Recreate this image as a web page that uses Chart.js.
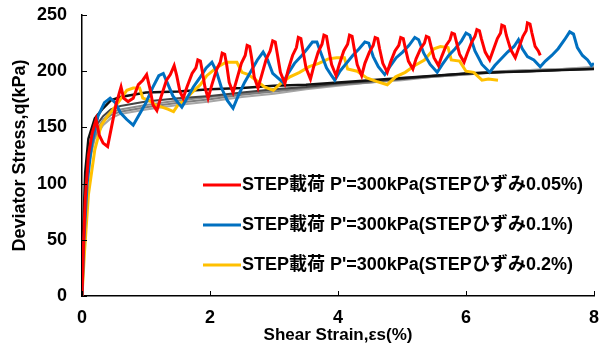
<!DOCTYPE html>
<html>
<head>
<meta charset="utf-8">
<script src="https://cdn.jsdelivr.net/npm/chart.js@4.4.1/dist/chart.umd.min.js"></script>
<style>
  html, body { margin: 0; padding: 0; background: #fff; }
  #wrap { width: 605px; height: 347px; }
</style>
</head>
<body>
<div id="wrap"><canvas id="myChart" width="605" height="347"></canvas></div>
<script>
// series labels
var seriesLabels = [
  "STEP載荷 P'=300kPa(STEPひずみ0.05%)",
  "STEP載荷 P'=300kPa(STEPひずみ0.1%)",
  "STEP載荷 P'=300kPa(STEPひずみ0.2%)"
];

// STEP 0.05% (red)
var redX = [0,0.02,0.05,0.1,0.16,0.22,0.27,0.33,0.4,0.46,0.53,0.58,0.61,0.65,0.72,0.8,0.88,0.95,1.01,1.06,1.11,1.17,1.24,1.32,1.38,1.44,1.48,1.53,1.58,
  1.64,1.72,1.78,1.81,1.85,1.88,1.92,1.97,2.03,2.1,2.16,2.19,2.23,2.26,2.3,2.36,2.42,2.49,2.55,2.58,2.62,2.65,2.69,2.75,
  2.81,2.88,2.94,2.98,3.02,3.05,3.1,3.17,3.22,3.29,3.35,3.38,3.42,3.45,3.5,3.57,3.62,3.69,3.75,3.78,3.82,3.85,3.9,3.97,
  4.02,4.09,4.15,4.18,4.22,4.25,4.3,4.37,4.42,4.49,4.55,4.58,4.62,4.65,4.7,4.77,4.82,4.89,4.95,4.98,5.02,5.05,5.1,5.17,
  5.22,5.29,5.35,5.38,5.42,5.45,5.5,5.57,5.62,5.69,5.75,5.78,5.82,5.85,5.9,5.97,6.02,6.09,6.14,6.17,6.21,6.24,6.3,6.37,
  6.42,6.49,6.54,6.56,6.6,6.63,6.7,6.77,6.82,6.89,6.94,6.96,7.0,7.03,7.08,7.13,7.16];
var redY = [0,40,85,125,145,157,143,136,133,150,170,180,186,176,173,176,188,192,197,185,170,165,178,192,197,205,196,182,176,
  186,198,203,210,209,200,186,176,188,201,208,216,215,206,190,181,193,207,214,223,222,212,195,185,
  197,211,218,227,226,216,199,189,201,214,221,230,229,219,203,193,204,217,224,232,231,221,206,196,
  206,218,224,232,231,221,206,196,207,217,223,230,229,220,207,199,208,218,223,230,229,221,209,202,
  211,220,225,231,230,223,212,205,213,223,228,234,233,226,215,208,216,226,231,237,236,229,217,210,
  218,229,234,241,240,232,219,212,220,231,236,243,242,234,222,218,214];

// STEP 0.1% (blue)
var blueX = [0,0.03,0.08,0.15,0.25,0.35,0.44,0.52,0.6,0.7,0.8,0.9,1.0,1.1,1.2,1.27,1.33,1.42,1.5,1.56,
  1.64,1.74,1.84,1.94,2.03,2.1,2.18,2.27,2.36,2.44,2.54,2.64,2.74,2.83,2.9,2.98,3.06,3.14,
  3.22,3.32,3.42,3.52,3.6,3.67,3.74,3.82,3.9,3.95,4.03,4.13,4.23,4.33,4.42,4.48,4.55,4.63,4.73,
  4.81,4.91,5.01,5.11,5.2,5.26,5.34,5.44,5.55,5.63,5.73,5.83,5.93,6.0,6.06,6.14,6.25,6.37,
  6.45,6.55,6.65,6.75,6.82,6.88,6.96,7.06,7.16,7.24,7.34,7.44,7.54,7.62,7.68,7.74,7.82,7.9,7.96,8.0];
var blueY = [0,50,100,135,160,172,176,172,163,157,152,162,172,185,196,198,190,178,172,168,
  176,186,194,203,208,200,185,174,167,178,190,200,210,217,210,198,194,190,
  198,207,213,220,226,226,215,203,196,192,200,207,214,220,226,225,213,204,197,
  204,212,217,223,230,228,216,206,199,206,214,220,227,234,232,218,206,199,
  205,211,217,222,228,220,213,210,204,209,214,220,228,235,233,221,214,210,205,207];

// STEP 0.2% (yellow)
var yellowX = [0,0.04,0.1,0.2,0.3,0.4,0.5,0.6,0.7,0.8,0.9,0.95,1.05,1.15,1.25,1.35,1.43,1.5,1.6,1.7,1.85,1.95,2.1,2.25,2.42,
  2.5,2.6,2.72,2.85,2.99,3.1,3.25,3.4,3.55,3.7,3.85,3.98,4.1,4.15,4.3,4.45,4.6,4.77,4.9,5.05,5.2,5.35,5.5,5.6,5.72,
  5.77,5.9,6.0,6.12,6.25,6.35,6.5];
var yellowY = [0,40,90,130,152,160,167,175,183,185,185,176,174,170,168,166,164,170,174,180,188,196,203,208,208,
  199,197,192,186,183,189,195,199,204,207,211,212,212,202,200,194,191,188,195,199,205,210,220,222,221,
  210,209,200,199,192,193,192];

// monotonic loading curves (black / greys)
var monoX = [0,0.02,0.05,0.1,0.2,0.33,0.45,0.6,0.8,1.0,1.5,2.0,2.5,3.0,3.5,4.0,4.5,5.0,5.5,6.0,6.5,7.0,7.5,8.0];
var blackY = [0,60,110,140,158,167,174,177,179,181,182,184,185,187,188,190,192,194,196,198,199,200,201,202];
var dgrayY = [0,45,95,128,150,160,166,169,171,173,176,178,181,184,186,189,191,193,196,198,199,200,201,202];
var gray1Y = [0,40,85,118,142,155,161,164,166,168,172,175,179,182,185,188,190,193,195,197,199,200,201,203];
var gray2Y = [0,38,82,115,140,152,158,162,164,166,170,173,177,180,184,187,190,192,195,197,199,201,202,204];
var gray3Y = [0,42,88,120,145,157,163,166,168,170,174,177,180,183,186,189,191,194,196,198,200,201,202,203];

function pts(xs, ys) {
  return xs.map(function (x, i) { return { x: x, y: ys[i] }; });
}

var FONT = "'Liberation Sans', Arial, 'Noto Sans CJK JP', sans-serif";

// tick marks drawn inside the plot
var innerTicks = {
  id: "innerTicks",
  afterDraw: function (chart) {
    var ctx = chart.ctx, a = chart.chartArea;
    var xs = chart.scales.x, ys = chart.scales.y;
    ctx.save();
    ctx.strokeStyle = "#000";
    ctx.lineWidth = 1;
    xs.ticks.forEach(function (t) {
      var px = Math.round(xs.getPixelForValue(t.value)) + 0.5;
      ctx.beginPath(); ctx.moveTo(px, a.bottom); ctx.lineTo(px, a.bottom - 5); ctx.stroke();
    });
    ys.ticks.forEach(function (t) {
      var py = Math.round(ys.getPixelForValue(t.value)) + 0.5;
      ctx.beginPath(); ctx.moveTo(a.left, py); ctx.lineTo(a.left + 5, py); ctx.stroke();
    });
    ctx.restore();
  }
};

// legend inside plot
var innerLegend = {
  id: "innerLegend",
  afterDraw: function (chart) {
    var ctx = chart.ctx;
    var rows = [185, 225, 265];
    ctx.save();
    ctx.font = "bold 18px " + FONT;
    ctx.textBaseline = "middle";
    for (var i = 0; i < 3; i++) {
      var ds = chart.data.datasets[i];
      ctx.strokeStyle = ds.borderColor;
      ctx.lineWidth = 3;
      ctx.beginPath(); ctx.moveTo(203, rows[i]); ctx.lineTo(241, rows[i]); ctx.stroke();
      ctx.fillStyle = "#000";
      ctx.fillText(ds.label, 242, rows[i]);
    }
    ctx.restore();
  }
};

function line(label, xs, ys, color, width) {
  return {
    label: label,
    data: pts(xs, ys),
    borderColor: color,
    backgroundColor: color,
    borderWidth: width,
    pointRadius: 0,
    showLine: true,
    fill: false,
    tension: 0
  };
}

var ctx = document.getElementById("myChart");
var myChart = new Chart(ctx, {
  type: "scatter",
  data: {
    datasets: [
      line(seriesLabels[0], redX, redY, "#ff0000", 3),
      line(seriesLabels[1], blueX, blueY, "#0070c0", 3),
      line(seriesLabels[2], yellowX, yellowY, "#ffc000", 3),
      line("black", monoX, blackY, "#111111", 2.5),
      line("dgray", monoX, dgrayY, "#444444", 2),
      line("gray1", monoX, gray1Y, "#7f7f7f", 2),
      line("gray2", monoX, gray2Y, "#a6a6a6", 2),
      line("gray3", monoX, gray3Y, "#8c8c8c", 2)
    ]
  },
  options: {
    responsive: false,
    animation: false,
    layout: { padding: { top: 15, right: 11, left: 0, bottom: 0 } },
    plugins: {
      legend: { display: false },
      tooltip: { enabled: false }
    },
    scales: {
      x: {
        type: "linear",
        min: 0, max: 8,
        ticks: { stepSize: 2, color: "#000", font: { family: FONT, size: 18, weight: "bold" }, padding: 11 },
        grid: { display: false, drawTicks: false },
        border: { color: "#000", width: 1.5 },
        title: { display: true, text: "Shear Strain,εs(%)", color: "#000", font: { family: FONT, size: 17, weight: "bold" }, padding: { top: 0, bottom: 1 } },
        afterFit: function (s) { s.height = 51; s.paddingLeft = 0; s.paddingRight = 0; }
      },
      y: {
        min: 0, max: 250,
        ticks: { stepSize: 50, color: "#000", font: { family: FONT, size: 18, weight: "bold" }, padding: 15 },
        grid: { display: false, drawTicks: false },
        border: { color: "#000", width: 1.5 },
        title: { display: true, text: "Deviator Stress,q(kPa)", color: "#000", font: { family: FONT, size: 18, weight: "bold" }, padding: { top: 9, bottom: 0 } },
        afterFit: function (s) { s.width = 82; s.paddingTop = 0; s.paddingBottom = 0; }
      }
    }
  },
  plugins: [innerTicks, innerLegend]
});
</script>
</body>
</html>
